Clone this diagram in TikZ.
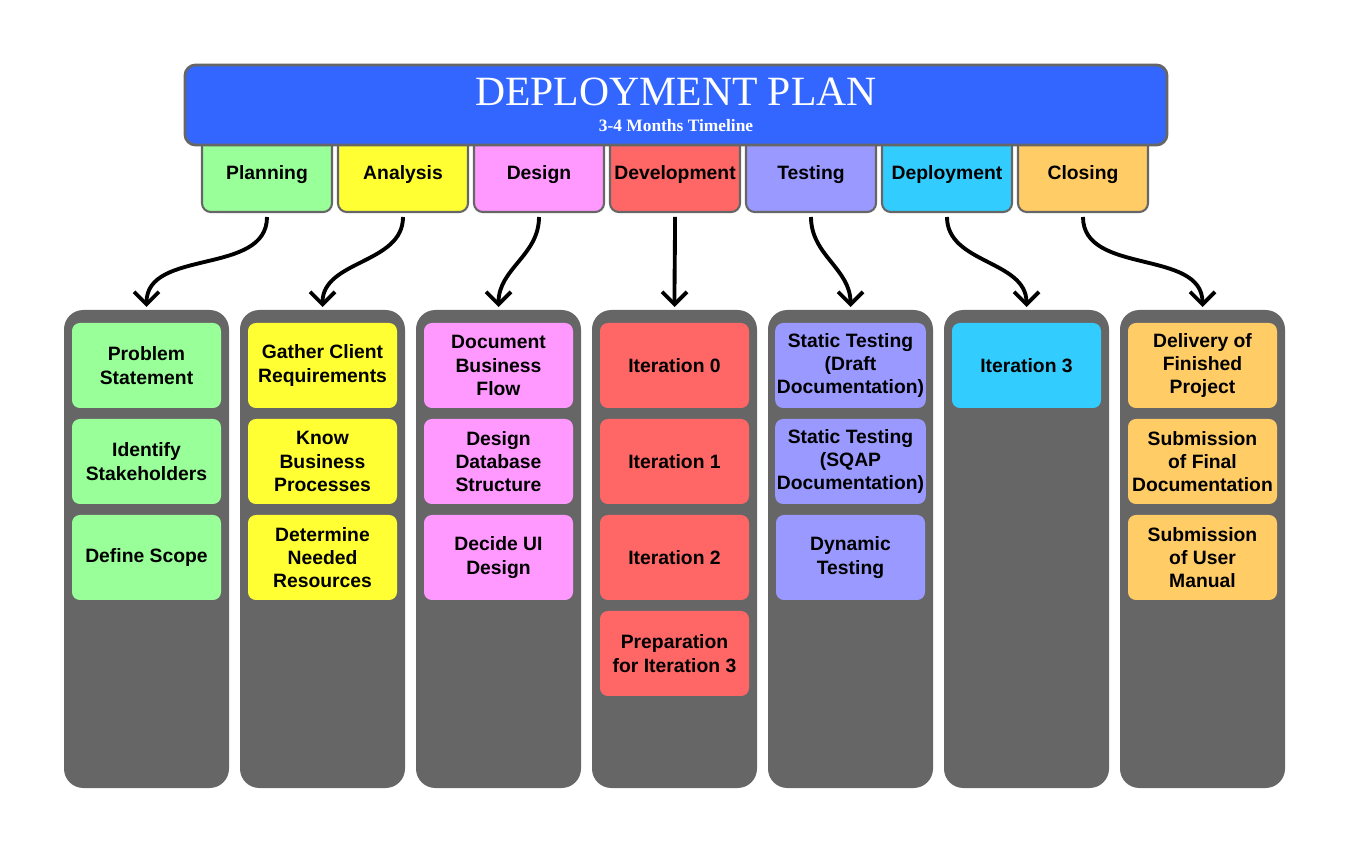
\documentclass[tikz,border=0pt]{standalone}
\usepackage{fontspec}
\setmainfont{Liberation Sans}
\newfontfamily\titlefont{Liberation Serif}
\usetikzlibrary{positioning, arrows.meta}

\definecolor{titleblue}{HTML}{3366FF}
\definecolor{edgegray}{HTML}{666666}
\definecolor{columngray}{HTML}{666666}
\definecolor{planningcol}{HTML}{99FF99}
\definecolor{analysiscol}{HTML}{FFFF33}
\definecolor{designcol}{HTML}{FF99FF}
\definecolor{developmentcol}{HTML}{FF6666}
\definecolor{testingcol}{HTML}{9999FF}
\definecolor{deploymentcol}{HTML}{33CCFF}
\definecolor{closingcol}{HTML}{FFCC66}

\begin{document}
\begin{tikzpicture}[]
        \tikzset{
            every node/.style={font=\bfseries\fontsize{11}{13.3}\selectfont, outer sep=0pt}, % card and tab text
            tab/.style={draw=edgegray, line width=1.2pt, rounded corners=5pt, minimum width=2.6cm, minimum height=1.5cm, inner sep=1pt}, % phase tabs under the title
            column/.style={fill=columngray, rounded corners=11pt, minimum width=3.3cm, minimum height=9.56cm}, % grey lanes
            card/.style={rounded corners=4.5pt, minimum width=2.98cm, minimum height=1.7cm, align=center, inner sep=1pt}, % task cards
            flow/.style={->, >={Straight Barb[length=2.5mm, width=5mm]}, line width=2.2pt}, % tab to lane arrows
            }

        \useasboundingbox (0,0) rectangle (26.98,-17.04);

        % lanes
        \node[column] (planning_col) at (2.93,-10.98) {};
        \node[column, right=0.22cm of planning_col] (analysis_col) {};
        \node[column, right=0.22cm of analysis_col] (design_col) {};
        \node[column, right=0.22cm of design_col] (development_col) {};
        \node[column, right=0.22cm of development_col] (testing_col) {};
        \node[column, right=0.22cm of testing_col] (deployment_col) {};
        \node[column, right=0.22cm of deployment_col] (closing_col) {};

        % planning cards
        \node[card, fill=planningcol, below=0.26cm of planning_col.north] (problem_card) {Problem\\Statement};
        \node[card, fill=planningcol, below=0.22cm of problem_card] (stakeholders_card) {Identify\\Stakeholders};
        \node[card, fill=planningcol, below=0.22cm of stakeholders_card] (scope_card) {Define Scope};

        % analysis cards
        \node[card, fill=analysiscol, below=0.26cm of analysis_col.north] (gather_card) {Gather Client\\Requirements};
        \node[card, fill=analysiscol, below=0.22cm of gather_card] (processes_card) {Know\\Business\\Processes};
        \node[card, fill=analysiscol, below=0.22cm of processes_card] (resources_card) {Determine\\Needed\\Resources};

        % design cards
        \node[card, fill=designcol, below=0.26cm of design_col.north] (flow_card) {Document\\Business\\Flow};
        \node[card, fill=designcol, below=0.22cm of flow_card] (database_card) {Design\\Database\\Structure};
        \node[card, fill=designcol, below=0.22cm of database_card] (ui_card) {Decide UI\\Design};

        % development cards
        \node[card, fill=developmentcol, below=0.26cm of development_col.north] (iter_zero_card) {Iteration 0};
        \node[card, fill=developmentcol, below=0.22cm of iter_zero_card] (iter_one_card) {Iteration 1};
        \node[card, fill=developmentcol, below=0.22cm of iter_one_card] (iter_two_card) {Iteration 2};
        \node[card, fill=developmentcol, below=0.22cm of iter_two_card] (prep_card) {Preparation\\for Iteration 3};

        % testing cards
        \node[card, fill=testingcol, below=0.26cm of testing_col.north] (draft_card) {Static Testing\\(Draft\\Documentation)};
        \node[card, fill=testingcol, below=0.22cm of draft_card] (sqap_card) {Static Testing\\(SQAP\\Documentation)};
        \node[card, fill=testingcol, below=0.22cm of sqap_card] (dynamic_card) {Dynamic\\Testing};

        % deployment cards
        \node[card, fill=deploymentcol, below=0.26cm of deployment_col.north] (iter_three_card) {Iteration 3};

        % closing cards
        \node[card, fill=closingcol, below=0.26cm of closing_col.north] (delivery_card) {Delivery of\\Finished\\Project};
        \node[card, fill=closingcol, below=0.22cm of delivery_card] (final_doc_card) {Submission\\of Final\\Documentation};
        \node[card, fill=closingcol, below=0.22cm of final_doc_card] (manual_card) {Submission\\of User\\Manual};

        % phase tabs
        \node[tab, fill=planningcol] (planning_tab) at (5.34,-3.49) {Planning};
        \node[tab, fill=analysiscol, right=0.12cm of planning_tab] (analysis_tab) {Analysis};
        \node[tab, fill=designcol, right=0.12cm of analysis_tab] (design_tab) {Design};
        \node[tab, fill=developmentcol, right=0.12cm of design_tab] (development_tab) {Development};
        \node[tab, fill=testingcol, right=0.12cm of development_tab] (testing_tab) {Testing};
        \node[tab, fill=deploymentcol, right=0.12cm of testing_tab] (deployment_tab) {Deployment};
        \node[tab, fill=closingcol, right=0.12cm of deployment_tab] (closing_tab) {Closing};

        % title
        \node[draw=edgegray, fill=titleblue, line width=1.6pt, rounded corners=6pt, minimum width=19.64cm, minimum height=1.6cm, align=center, text=white, font=\titlefont] (title_box) at (13.52,-2.1)
            {{\fontsize{23.7}{25}\selectfont DEPLOYMENT PLAN}\\[3pt]{\fontsize{9.9}{11}\selectfont\bfseries 3-4 Months Timeline}};

        % tab to lane arrows
        \draw[flow] ([yshift=-0.1cm]planning_tab.south) to[out=-90, in=90] ([yshift=0.06cm]planning_col.north);
        \draw[flow] ([yshift=-0.1cm]analysis_tab.south) to[out=-90, in=90] ([yshift=0.06cm]analysis_col.north);
        \draw[flow] ([yshift=-0.1cm]design_tab.south) to[out=-90, in=90] ([yshift=0.06cm]design_col.north);
        \draw[flow] ([yshift=-0.1cm]development_tab.south) to[out=-90, in=90] ([yshift=0.06cm]development_col.north);
        \draw[flow] ([yshift=-0.1cm]testing_tab.south) to[out=-90, in=90] ([yshift=0.06cm]testing_col.north);
        \draw[flow] ([yshift=-0.1cm]deployment_tab.south) to[out=-90, in=90] ([yshift=0.06cm]deployment_col.north);
        \draw[flow] ([yshift=-0.1cm]closing_tab.south) to[out=-90, in=90] ([yshift=0.06cm]closing_col.north);
\end{tikzpicture}
\end{document}
